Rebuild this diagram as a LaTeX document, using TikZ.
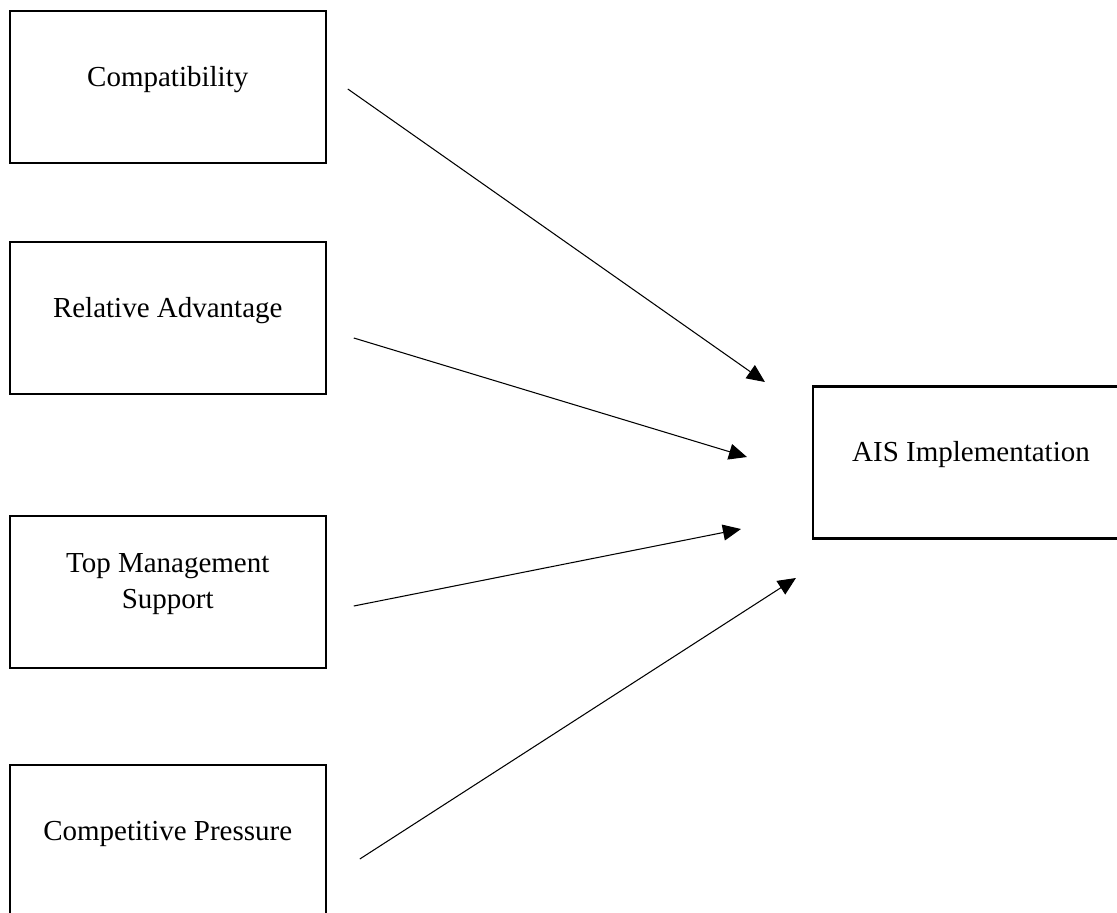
\documentclass[tikz,border=0pt]{standalone}
\usepackage{fontspec}
\setmainfont{Liberation Serif}
\usetikzlibrary{arrows.meta, positioning}

\begin{document}
\begin{tikzpicture}[
    >={Triangle[length=0.36cm, width=0.32cm]},
    font=\fontsize{16.5}{20.4}\selectfont,
    factor/.style={draw, line width=1.2pt, minimum width=6.32cm, inner sep=0pt,
        text height=1.5cm, text depth=1.54cm, align=center},
    link/.style={->, line width=0.6pt}
]

    \useasboundingbox (0, 0) rectangle (22.34, -18.24);

    % -------------------------------------------------------------
    % LEFT SIDE: THE FOUR FACTORS
    % -------------------------------------------------------------

    \node[factor] (compat) at (3.355, -1.74) {Compatibility};
    \node[factor] (reladv) at (3.355, -6.36) {Relative Advantage};
    \node[factor, text height=1.84cm, text depth=1.2cm] (mgmt) at (3.355, -11.84) {Top Management\\Support};
    \node[factor] (press) at (3.355, -16.82) {Competitive Pressure};

    % -------------------------------------------------------------
    % RIGHT SIDE: THE OUTCOME
    % -------------------------------------------------------------

    \node[factor] (ais) at (19.42, -9.25) {AIS Implementation};

    % Arrow tips stop short of the box
    \coordinate (tip1) at ([shift={(-0.94, 1.61)}]ais.west);
    \coordinate (tip2) at ([shift={(-1.30, 0.11)}]ais.west);
    \coordinate (tip3) at ([shift={(-1.42, -1.33)}]ais.west);
    \coordinate (tip4) at ([shift={(-0.32, -2.31)}]ais.west);

    % -------------------------------------------------------------
    % ARROWS
    % -------------------------------------------------------------

    \draw[link] ([shift={(0.42, -0.04)}]compat.east) -- (tip1);
    \draw[link] ([shift={(0.54, -0.40)}]reladv.east) -- (tip2);
    \draw[link] ([shift={(0.54, -0.28)}]mgmt.east) -- (tip3);
    \draw[link] ([shift={(0.66, -0.36)}]press.east) -- (tip4);

\end{tikzpicture}
\end{document}
